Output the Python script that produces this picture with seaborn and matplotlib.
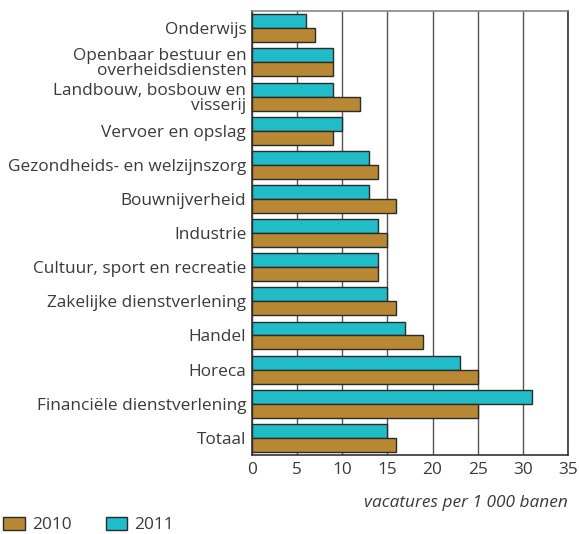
import pandas as pd
import seaborn as sns
import matplotlib.pyplot as plt
from matplotlib.patches import Patch

# Categorieën (van boven naar beneden)
sectoren = [
    'Onderwijs',
    'Openbaar bestuur en\noverheidsdiensten',
    'Landbouw, bosbouw en\nvisserij',
    'Vervoer en opslag',
    'Gezondheids- en welzijnszorg',
    'Bouwnijverheid',
    'Industrie',
    'Cultuur, sport en recreatie',
    'Zakelijke dienstverlening',
    'Handel',
    'Horeca',
    'Financiële dienstverlening',
    'Totaal',
]
# vacatures per 1 000 banen
waarden_2010 = [7, 9, 12, 9, 14, 16, 15, 14, 16, 19, 25, 25, 16]
waarden_2011 = [6, 9, 9, 10, 13, 13, 14, 14, 15, 17, 23, 31, 15]
jaren = ['2010', '2011']
kleuren = {'2010': '#B98834', '2011': '#20BCC8'}
x_ticks = [0, 5, 10, 15, 20, 25, 30, 35]

df = pd.DataFrame({
    'sector': sectoren * 2,
    'waarde': waarden_2010 + waarden_2011,
    'jaar': ['2010'] * len(sectoren) + ['2011'] * len(sectoren),
})

sns.set_style('white')
plt.rcParams['font.family'] = ['Open Sans', 'DejaVu Sans']
tekst = '#3a3a3a'
fs = 12.4

fig = plt.figure(figsize=(5.79, 5.34), dpi=100)
ax = fig.add_axes([0.435, 0.148, 0.546, 0.831])

sns.barplot(data=df, y='sector', x='waarde', hue='jaar', hue_order=['2011', '2010'],
            order=sectoren, palette=kleuren, saturation=1, orient='h', width=0.82,
            edgecolor='#2b2b2b', linewidth=1.0, legend=False, ax=ax, zorder=3)

ax.set_xlim(0, 35)
ax.set_xticks(x_ticks)
ax.grid(axis='x', color='#555555', linewidth=1.0, zorder=0)
ax.set_axisbelow(True)
ax.set_ylabel('')
ax.set_xlabel('vacatures per 1 000 banen', style='italic', fontsize=fs,
              color=tekst, loc='right', labelpad=12)
ax.tick_params(axis='both', length=0, labelsize=fs, colors=tekst)
ax.tick_params(axis='y', pad=4)
ax.tick_params(axis='x', pad=5)
for s in ['left', 'bottom', 'right']:
    ax.spines[s].set_color('#333333')
    ax.spines[s].set_linewidth(1.2)
ax.spines['top'].set_color('#888888')
ax.spines['top'].set_linewidth(1.2)
for lbl in ax.get_yticklabels():
    lbl.set_linespacing(0.92)

handles = [Patch(facecolor=kleuren[j], edgecolor='#2b2b2b', linewidth=1.0) for j in jaren]
fig.legend(handles, jaren, loc='lower left', bbox_to_anchor=(-0.021, -0.028), ncol=2,
           frameon=False, fontsize=fs, handlelength=1.25, handleheight=0.8,
           columnspacing=2.0, handletextpad=0.4, labelcolor=tekst)

plt.savefig('out.png', dpi=100)
